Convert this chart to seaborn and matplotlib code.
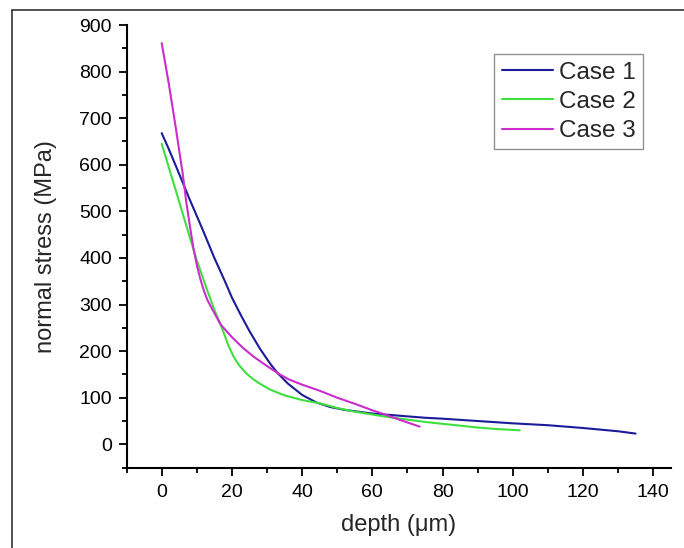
import numpy as np
import pandas as pd
import matplotlib
matplotlib.use("Agg")
import matplotlib.pyplot as plt
from matplotlib.lines import Line2D
from matplotlib.ticker import MultipleLocator
import seaborn as sns

# ---- data ----
case1_x = [0, 2, 5, 8, 11.6, 15, 18, 20, 22.5, 25, 28, 31, 33, 36, 40, 44, 48, 52, 56, 60, 65, 70, 75, 80, 90, 100, 110, 120, 130, 135]
case1_y = [668, 634, 580, 525, 462, 400, 350, 315, 278, 243, 205, 172, 153, 130, 106, 90, 80, 74, 70, 66, 63, 60, 57, 55, 50, 45, 41, 35, 28, 23]

case2_x = [0, 3, 5, 7.3, 10, 13, 15, 17, 19, 20.5, 22, 24, 26, 28, 31, 35, 40, 45, 50, 55, 60, 65, 70, 75, 80, 85, 90, 95, 102]
case2_y = [645, 570, 520, 462, 395, 330, 289, 253, 212, 188, 170, 153, 140, 130, 117, 105, 95, 88, 78, 70, 64, 58, 53, 48, 44, 40, 36, 33, 30]

case3_x = [0, 2, 4, 6, 7, 8, 9, 10, 11, 12, 13, 14.4, 16.8, 20, 23, 26.2, 30, 33, 36, 40, 45, 50, 55, 60, 64, 68, 73.5]
case3_y = [861, 775, 680, 580, 520, 470, 422, 385, 355, 330, 310, 290, 257, 230, 208, 188, 168, 153, 140, 128, 115, 100, 87, 73, 63, 52, 38]

series_names = ["Case 1", "Case 2", "Case 3"]
series_colors = ["#1c1c9a", "#3ee03e", "#cc2ccc"]

frames = []
for name, xs, ys in zip(series_names, [case1_x, case2_x, case3_x], [case1_y, case2_y, case3_y]):
    frames.append(pd.DataFrame({"depth": xs, "stress": ys, "case": name}))
df = pd.concat(frames, ignore_index=True)

sns.set_style("ticks")
plt.rcParams["font.family"] = ["Liberation Sans", "DejaVu Sans"]

fig = plt.figure(figsize=(6.84, 5.48), dpi=100)
ax = fig.add_axes([126.6 / 684, 1 - 467.6 / 548, (670.7 - 126.6) / 684, (467.6 - 25) / 548])

sns.lineplot(data=df, x="depth", y="stress", hue="case", palette=dict(zip(series_names, series_colors)),
             sort=False, estimator=None, linewidth=1.5, ax=ax)

ax.set_xlim(-10, 145)
ax.set_ylim(-50, 900)
ax.xaxis.set_minor_locator(MultipleLocator(10))
ax.yaxis.set_minor_locator(MultipleLocator(50))
ax.set_xticks([0, 20, 40, 60, 80, 100, 120, 140])
ax.set_yticks(range(0, 901, 100))

for s in ["top", "right"]:
    ax.spines[s].set_visible(False)
for s in ["left", "bottom"]:
    ax.spines[s].set_linewidth(1.5)
    ax.spines[s].set_color("black")

ax.tick_params(which="major", direction="out", length=5.5, width=1.3, labelsize=14, colors="black")
ax.tick_params(axis="y", which="major", pad=5)
ax.tick_params(axis="x", which="major", pad=6)
ax.tick_params(which="minor", direction="out", length=3.5, width=1.3, colors="black")

ax.set_xlabel("depth (μm)", fontsize=17, labelpad=10)
ax.set_ylabel("normal stress (MPa)", fontsize=17, labelpad=16)

leg = ax.legend(loc="upper right", bbox_to_anchor=(0.949, 0.934), borderaxespad=0, fontsize=17.5,
                frameon=True, fancybox=False, edgecolor="#777777", handlelength=2.1,
                handletextpad=0.25, labelspacing=0.3, borderpad=0.3)
leg.get_frame().set_linewidth(1.0)
for h in leg.get_lines():
    h.set_linewidth(1.5)

# outer frame of the screenshot
fig.add_artist(Line2D([12 / 684, 1.0], [1 - 10 / 548, 1 - 10 / 548], transform=fig.transFigure, color="#222222", linewidth=1.1))
fig.add_artist(Line2D([12 / 684, 12 / 684], [0.0, 1 - 10 / 548], transform=fig.transFigure, color="#222222", linewidth=1.1))

fig.savefig("out.png", dpi=100)
